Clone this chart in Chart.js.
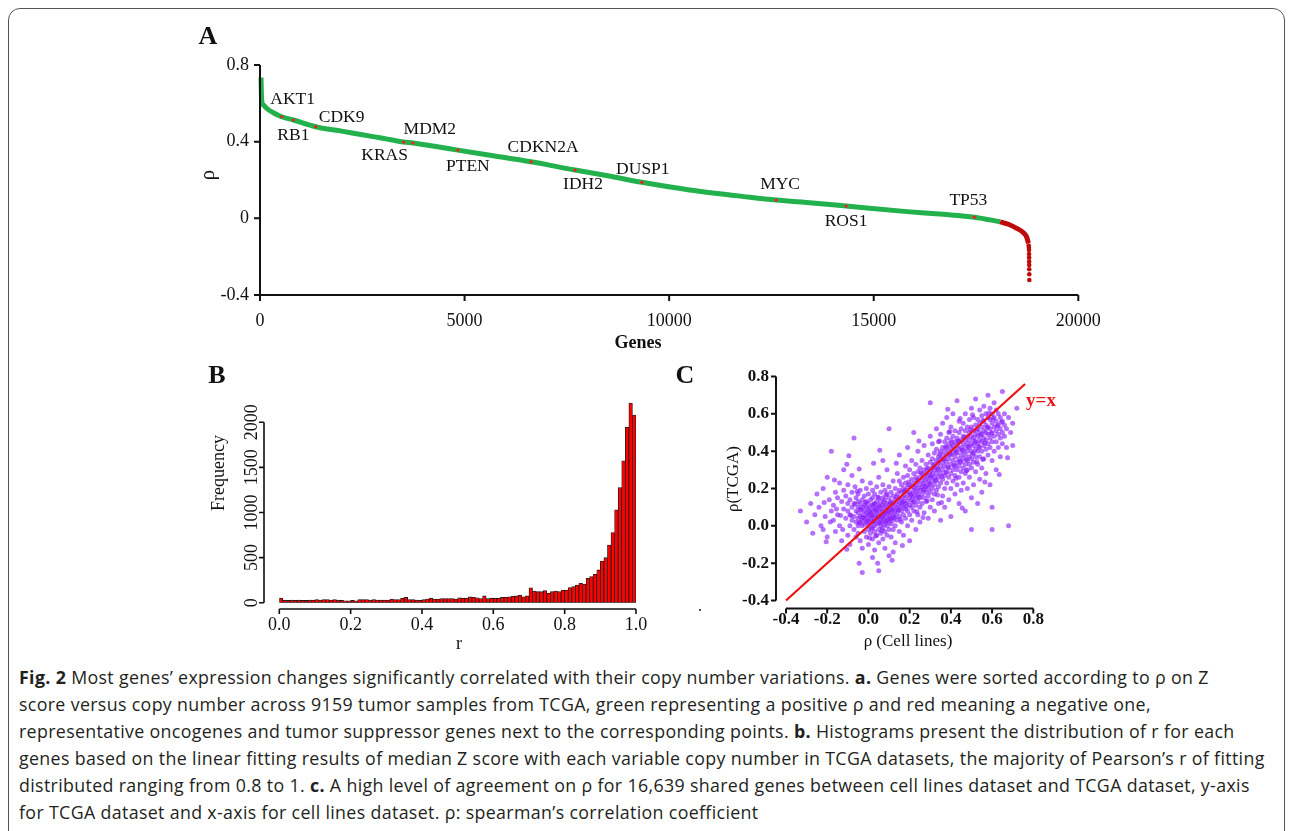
<!DOCTYPE html>
<html>
<head>
<meta charset="utf-8">
<script src="https://cdn.jsdelivr.net/npm/chart.js"></script>
<style>
    body { margin: 0; width: 1292px; height: 831px; overflow: hidden; background: #fff; position: relative; font-family: "Liberation Serif", serif; color: #111; }
    .frame { position: absolute; left: 8px; top: 8px; width: 1275px; height: 880px; border: 1px solid #555; border-radius: 12px; }
    canvas { position: absolute; }
    .t { position: absolute; transform: translate(-50%, -50%); white-space: nowrap; }
    .rot { transform: translate(-50%, -50%) rotate(-90deg); }
    .panel { font-weight: bold; font-size: 26px; }
    .caption { position: absolute; left: 19px; top: 664px; font-family: "Open Sans", sans-serif; font-size: 17.8px; letter-spacing: 0.35px; line-height: 27px; color: #231f20; }
    .caption div { white-space: nowrap; }
</style>
</head>
<body>
<div class="frame"></div>

<canvas id="sortedRhoChart" width="910" height="340" style="left:190px;top:20px"></canvas>
<canvas id="histChart" width="470" height="275" style="left:190px;top:360px"></canvas>
<canvas id="agreementChart" width="380" height="275" style="left:700px;top:360px"></canvas>

<div class="t panel" style="left:208px;top:36px">A</div>
<div class="t rot" style="left:207px;top:175px;font-size:21px">ρ</div>
<div class="t" style="left:638px;top:342px;font-size:18px;font-weight:bold">Genes</div>

<div class="t panel" style="left:217px;top:375px">B</div>
<div class="t rot" style="left:218px;top:473px;font-size:18px">Frequency</div>
<div class="t" style="left:459px;top:643px;font-size:18px">r</div>

<div class="t panel" style="left:685px;top:375px">C</div>
<div class="t rot" style="left:733px;top:479px;font-size:17px">ρ(TCGA)</div>
<div class="t" style="left:908px;top:641px;font-size:17px">ρ (Cell lines)</div>
<div class="t" style="left:700px;top:606px;font-size:16px">.</div>

<div class="caption">
    <div><b>Fig. 2</b> Most genes’ expression changes significantly correlated with their copy number variations. <b>a.</b> Genes were sorted according to ρ on Z</div>
    <div>score versus copy number across 9159 tumor samples from TCGA, green representing a positive ρ and red meaning a negative one,</div>
    <div>representative oncogenes and tumor suppressor genes next to the corresponding points. <b>b.</b> Histograms present the distribution of r for each</div>
    <div>genes based on the linear fitting results of median Z score with each variable copy number in TCGA datasets, the majority of Pearson’s r of fitting</div>
    <div>distributed ranging from 0.8 to 1. <b>c.</b> A high level of agreement on ρ for 16,639 shared genes between cell lines dataset and TCGA dataset, y-axis</div>
    <div>for TCGA dataset and x-axis for cell lines dataset. ρ: spearman’s correlation coefficient</div>
</div>

<script>
// --- Panel A: genes sorted by rho ---
const geneRank = [25, 40, 90, 163, 326, 530, 815, 1360, 2000, 2500, 3000, 3510, 3736, 4300, 4836, 5700, 6626, 7700, 8500, 9333, 10500, 11978, 12613, 13500, 14324, 15808, 16700, 17460, 18089];
const rhoSorted = [0.735, 0.617, 0.59, 0.574, 0.551, 0.530, 0.513, 0.478, 0.455, 0.436, 0.418, 0.398, 0.393, 0.375, 0.356, 0.327, 0.295, 0.252, 0.222, 0.188, 0.148, 0.110, 0.0955, 0.080, 0.064, 0.035, 0.021, 0.006, -0.018];
const tailRank = [18089, 18292, 18496, 18659, 18741, 18781];
const tailRho = [-0.018, -0.031, -0.052, -0.075, -0.099, -0.13];
const outlierRank = [18788, 18792, 18795, 18797, 18798, 18799, 18800, 18801, 18802, 18803];
const outlierRho = [-0.142, -0.153, -0.165, -0.186, -0.205, -0.226, -0.244, -0.266, -0.292, -0.322];

const geneNames = ['AKT1', 'RB1', 'CDK9', 'KRAS', 'MDM2', 'PTEN', 'CDKN2A', 'IDH2', 'DUSP1', 'MYC', 'ROS1', 'TP53'];
const geneAt = [530, 815, 1360, 3510, 3736, 4836, 6626, 7700, 9333, 12613, 14324, 17460];
const geneRho = [0.530, 0.513, 0.478, 0.398, 0.393, 0.356, 0.295, 0.252, 0.188, 0.0955, 0.064, 0.006];

const aTickX = [0, 5000, 10000, 15000, 20000];
const aLabelX = ['0', '5000', '10000', '15000', '20000'];
const aTickY = [-0.4, 0, 0.4, 0.8];
const aLabelY = ['-0.4', '0', '0.4', '0.8'];

// --- Panel B: histogram of r (bins of 0.01 from 0 to 1) ---
const histCounts = [
    50, 25, 25, 28, 25, 30, 25, 25, 30, 28,
    35, 30, 35, 35, 30, 35, 30, 25, 20, 20,
    25, 20, 35, 35, 35, 30, 35, 30, 30, 30,
    30, 40, 35, 35, 50, 60, 35, 35, 30, 25,
    35, 40, 50, 40, 40, 45, 45, 45, 45, 40,
    55, 50, 50, 65, 60, 55, 45, 75, 45, 50,
    50, 50, 60, 60, 65, 70, 75, 85, 65, 75,
    165, 130, 122, 122, 133, 104, 122, 130, 122, 140,
    140, 167, 178, 196, 215, 207, 270, 289, 315, 363,
    462, 500, 640, 777, 1029, 1276, 1572, 1943, 2213, 2080
];
const bTickX = [0, 0.2, 0.4, 0.6, 0.8, 1.0];
const bLabelX = ['0.0', '0.2', '0.4', '0.6', '0.8', '1.0'];
const bTickY = [0, 500, 1000, 1500, 2000];
const bLabelY = ['0', '500', '1000', '1500', '2000'];

// --- Panel C: rho in cell lines (x) vs rho in TCGA (y) ---
const sharedGenesRho = [
    [-0.33,0.08],[-0.3,0.02],[-0.28,0.12],[-0.27,-0.04],[-0.25,0.17],[-0.26,0.06],
    [-0.24,0.1],[-0.23,0.0],[-0.22,0.2],[-0.21,0.05],[-0.2,-0.06],[-0.19,0.14],[-0.18,0.4],[-0.2,0.26],[-0.22,-0.02],[-0.18,0.08],[-0.185,0.02],
    [-0.17,0.11],[-0.16,-0.03],[-0.16,0.18],[-0.15,0.06],[-0.14,0.23],[-0.14,0.0],[-0.13,0.13],[-0.13,-0.08],[-0.12,0.09],[-0.12,0.3],[-0.17,0.03],[-0.15,0.15],[-0.12,0.19],[-0.125,-0.02],[-0.155,0.09],
    [-0.11,0.04],[-0.11,0.16],[-0.1,-0.05],[-0.1,0.08],[-0.1,0.12],[-0.1,0.22],[-0.09,0.0],[-0.09,0.06],[-0.09,0.14],[-0.09,-0.1],[-0.08,0.03],[-0.08,0.1],[-0.08,0.18],[-0.08,0.27],[-0.07,-0.02],[-0.07,0.05],[-0.07,0.12],[-0.07,0.47],[-0.06,0.08],[-0.06,0.15],[-0.06,-0.06],[-0.06,0.02],[-0.065,0.21],[-0.105,0.33],
    [-0.05,0.0],[-0.05,0.04],[-0.05,0.07],[-0.05,0.1],[-0.05,0.13],[-0.05,0.17],[-0.05,-0.04],[-0.04,0.02],[-0.04,0.05],[-0.04,0.09],[-0.04,0.12],[-0.04,0.19],[-0.04,-0.08],[-0.03,0.0],[-0.03,0.03],[-0.03,0.06],[-0.03,0.1],[-0.03,0.14],[-0.03,0.24],[-0.03,-0.12],
    [-0.02,-0.03],[-0.02,0.01],[-0.02,0.04],[-0.02,0.08],[-0.02,0.11],[-0.02,0.16],[-0.01,-0.06],[-0.01,0.02],[-0.01,0.05],[-0.01,0.07],[-0.01,0.1],[-0.01,0.13],[-0.01,0.2],[0.0,-0.02],[0.0,0.0],[0.0,0.03],[0.0,0.06],[0.0,0.09],[0.0,0.12],[0.0,0.17],[0.0,-0.1],[-0.045,-0.2],[-0.03,-0.25],
    [0.01,-0.04],[0.01,0.01],[0.01,0.04],[0.01,0.07],[0.01,0.1],[0.01,0.14],[0.01,0.23],[0.02,-0.07],[0.02,-0.01],[0.02,0.02],[0.02,0.05],[0.02,0.08],[0.02,0.11],[0.02,0.15],[0.02,0.19],[0.03,-0.03],[0.03,0.0],[0.03,0.03],[0.03,0.06],[0.03,0.09],[0.03,0.12],[0.03,0.17],[0.03,-0.13],
    [0.04,-0.05],[0.04,0.01],[0.04,0.04],[0.04,0.07],[0.04,0.1],[0.04,0.13],[0.04,0.21],[0.05,-0.09],[0.05,-0.02],[0.05,0.02],[0.05,0.05],[0.05,0.08],[0.05,0.11],[0.05,0.15],[0.05,0.26],[0.045,-0.2],[0.05,-0.24],[0.02,-0.17],
    [0.06,-0.04],[0.06,0.0],[0.06,0.03],[0.06,0.06],[0.06,0.09],[0.06,0.13],[0.06,0.18],[0.07,-0.07],[0.07,-0.01],[0.07,0.02],[0.07,0.05],[0.07,0.08],[0.07,0.11],[0.07,0.15],[0.07,0.22],[0.08,-0.03],[0.08,0.01],[0.08,0.04],[0.08,0.07],[0.08,0.1],[0.08,0.14],[0.08,0.19],[0.08,-0.12],
    [0.09,-0.05],[0.09,0.0],[0.09,0.03],[0.09,0.06],[0.09,0.09],[0.09,0.12],[0.09,0.17],[0.09,0.3],[0.1,-0.02],[0.1,0.02],[0.1,0.05],[0.1,0.08],[0.1,0.11],[0.1,0.15],[0.1,0.21],[0.1,0.52],[0.1,-0.16],[0.07,0.35],
    [0.11,-0.06],[0.11,0.01],[0.11,0.04],[0.11,0.07],[0.11,0.1],[0.11,0.13],[0.11,0.18],[0.12,-0.02],[0.12,0.03],[0.12,0.06],[0.12,0.09],[0.12,0.12],[0.12,0.16],[0.12,0.24],[0.13,0.0],[0.13,0.05],[0.13,0.08],[0.13,0.11],[0.13,0.14],[0.13,0.2],[0.13,-0.09],
    [0.14,0.03],[0.14,0.07],[0.14,0.1],[0.14,0.13],[0.14,0.17],[0.14,0.28],[0.15,-0.03],[0.15,0.05],[0.15,0.09],[0.15,0.12],[0.15,0.15],[0.15,0.19],[0.15,0.24],[0.12,-0.14],[0.15,0.38],
    [0.16,0.02],[0.16,0.08],[0.16,0.11],[0.16,0.14],[0.16,0.18],[0.16,0.22],[0.17,-0.05],[0.17,0.06],[0.17,0.1],[0.17,0.13],[0.17,0.16],[0.17,0.2],[0.17,0.26],[0.18,0.04],[0.18,0.09],[0.18,0.12],[0.18,0.15],[0.18,0.19],[0.18,0.23],[0.18,0.32],
    [0.19,0.0],[0.19,0.08],[0.19,0.13],[0.19,0.17],[0.19,0.21],[0.19,0.27],[0.2,0.06],[0.2,0.11],[0.2,0.15],[0.2,0.18],[0.2,0.22],[0.2,0.3],[0.2,-0.08],[0.19,0.42],
    [0.21,0.03],[0.21,0.1],[0.21,0.14],[0.21,0.17],[0.21,0.21],[0.21,0.25],[0.21,0.35],[0.22,0.08],[0.22,0.13],[0.22,0.16],[0.22,0.19],[0.22,0.23],[0.22,0.28],[0.23,-0.02],[0.23,0.11],[0.23,0.15],[0.23,0.18],[0.23,0.22],[0.23,0.26],[0.23,0.33],
    [0.24,0.06],[0.24,0.13],[0.24,0.17],[0.24,0.2],[0.24,0.24],[0.24,0.29],[0.24,0.4],[0.25,0.1],[0.25,0.15],[0.25,0.19],[0.25,0.22],[0.25,0.26],[0.25,0.31],[0.25,0.02],[0.22,0.5],
    [0.26,0.12],[0.26,0.17],[0.26,0.21],[0.26,0.24],[0.26,0.28],[0.26,0.35],[0.27,0.07],[0.27,0.15],[0.27,0.19],[0.27,0.23],[0.27,0.26],[0.27,0.3],[0.27,0.43],[0.28,0.13],[0.28,0.18],[0.28,0.21],[0.28,0.25],[0.28,0.28],[0.28,0.33],
    [0.29,0.04],[0.29,0.16],[0.29,0.2],[0.29,0.24],[0.29,0.27],[0.29,0.31],[0.29,0.38],[0.3,0.1],[0.3,0.18],[0.3,0.22],[0.3,0.26],[0.3,0.29],[0.3,0.34],[0.3,0.66],[0.3,0.48],
    [0.31,0.14],[0.31,0.2],[0.31,0.24],[0.31,0.28],[0.31,0.31],[0.31,0.36],[0.31,0.44],[0.32,0.08],[0.32,0.17],[0.32,0.22],[0.32,0.26],[0.32,0.3],[0.32,0.33],[0.32,0.39],[0.33,0.19],[0.33,0.24],[0.33,0.28],[0.33,0.32],[0.33,0.35],[0.33,0.41],[0.33,0.52],
    [0.34,0.12],[0.34,0.21],[0.34,0.26],[0.34,0.3],[0.34,0.34],[0.34,0.37],[0.34,0.45],[0.35,0.03],[0.35,0.23],[0.35,0.28],[0.35,0.32],[0.35,0.36],[0.35,0.4],[0.35,0.49],
    [0.36,0.16],[0.36,0.25],[0.36,0.3],[0.36,0.34],[0.36,0.38],[0.36,0.42],[0.36,0.55],[0.37,0.2],[0.37,0.27],[0.37,0.32],[0.37,0.36],[0.37,0.4],[0.37,0.45],[0.37,0.1],[0.38,0.23],[0.38,0.29],[0.38,0.34],[0.38,0.38],[0.38,0.42],[0.38,0.47],[0.38,0.58],
    [0.39,0.14],[0.39,0.26],[0.39,0.31],[0.39,0.36],[0.39,0.4],[0.39,0.44],[0.39,0.5],[0.4,0.2],[0.4,0.28],[0.4,0.33],[0.4,0.38],[0.4,0.42],[0.4,0.46],[0.4,0.53],[0.4,0.05],
    [0.41,0.24],[0.41,0.3],[0.41,0.35],[0.41,0.39],[0.41,0.43],[0.41,0.48],[0.41,0.6],[0.42,0.17],[0.42,0.27],[0.42,0.32],[0.42,0.37],[0.42,0.41],[0.42,0.45],[0.42,0.51],[0.43,0.22],[0.43,0.3],[0.43,0.34],[0.43,0.39],[0.43,0.43],[0.43,0.47],[0.43,0.67],
    [0.44,0.12],[0.44,0.26],[0.44,0.32],[0.44,0.36],[0.44,0.41],[0.44,0.45],[0.44,0.5],[0.44,0.56],[0.45,0.29],[0.45,0.34],[0.45,0.38],[0.45,0.42],[0.45,0.46],[0.45,0.52],[0.45,0.19],
    [0.46,0.23],[0.46,0.31],[0.46,0.36],[0.46,0.4],[0.46,0.44],[0.46,0.48],[0.46,0.55],[0.47,0.08],[0.47,0.28],[0.47,0.33],[0.47,0.38],[0.47,0.42],[0.47,0.46],[0.47,0.51],[0.47,0.6],
    [0.48,0.2],[0.48,0.3],[0.48,0.35],[0.48,0.4],[0.48,0.44],[0.48,0.48],[0.48,0.53],[0.49,0.26],[0.49,0.33],[0.49,0.37],[0.49,0.42],[0.49,0.46],[0.49,0.5],[0.49,0.57],[0.5,0.15],[0.5,0.31],[0.5,0.36],[0.5,0.4],[0.5,0.44],[0.5,0.48],[0.5,0.53],[0.5,0.63],[0.5,-0.02],
    [0.51,0.22],[0.51,0.34],[0.51,0.39],[0.51,0.43],[0.51,0.47],[0.51,0.51],[0.51,0.58],[0.52,0.29],[0.52,0.37],[0.52,0.41],[0.52,0.45],[0.52,0.49],[0.52,0.54],[0.52,0.68],[0.53,0.12],[0.53,0.33],[0.53,0.4],[0.53,0.44],[0.53,0.48],[0.53,0.52],[0.53,0.57],
    [0.54,0.25],[0.54,0.37],[0.54,0.42],[0.54,0.46],[0.54,0.5],[0.54,0.55],[0.54,0.62],[0.55,0.31],[0.55,0.4],[0.55,0.45],[0.55,0.49],[0.55,0.53],[0.55,0.59],[0.55,0.18],
    [0.56,0.36],[0.56,0.43],[0.56,0.47],[0.56,0.51],[0.56,0.56],[0.56,0.64],[0.57,0.28],[0.57,0.41],[0.57,0.46],[0.57,0.5],[0.57,0.54],[0.57,0.6],[0.58,0.38],[0.58,0.44],[0.58,0.49],[0.58,0.53],[0.58,0.58],[0.58,0.7],
    [0.59,0.22],[0.59,0.42],[0.59,0.47],[0.59,0.52],[0.59,0.57],[0.59,0.63],[0.6,0.35],[0.6,0.45],[0.6,0.5],[0.6,0.55],[0.6,0.6],[0.6,-0.02],[0.6,0.1],
    [0.61,0.4],[0.61,0.48],[0.61,0.53],[0.61,0.58],[0.61,0.66],[0.62,0.3],[0.62,0.45],[0.62,0.51],[0.62,0.56],[0.62,0.62],[0.63,0.42],[0.63,0.49],[0.63,0.54],[0.63,0.6],[0.64,0.37],[0.64,0.47],[0.64,0.52],[0.64,0.58],
    [0.65,0.44],[0.65,0.5],[0.65,0.56],[0.65,0.72],[0.66,0.48],[0.66,0.54],[0.66,0.6],[0.67,0.42],[0.67,0.52],[0.68,0.0],[0.68,0.58],[0.69,0.5],[0.7,0.43],[0.7,0.55],[0.72,0.63],
    [-0.045,0.015],[-0.035,0.085],[-0.025,0.045],[-0.015,0.125],[-0.005,0.025],[0.005,0.075],[0.015,-0.015],[0.015,0.055],[0.025,0.115],[0.025,0.025],[0.035,0.085],[0.035,-0.055],[0.045,0.045],[0.045,0.155],[0.055,0.015],[0.055,0.105],[0.065,0.045],[0.065,-0.025],[0.075,0.125],[0.075,0.065],[0.085,0.025],[0.085,0.165],[0.095,0.075],[0.105,0.035],[0.105,0.125],[0.115,0.085],[0.125,0.045],[0.135,0.155],[0.145,0.085],[0.155,0.035],[-0.065,0.115],[-0.085,0.055],[-0.055,0.185],[0.005,-0.065],
    [0.165,0.125],[0.175,0.185],[0.185,0.105],[0.195,0.235],[0.205,0.165],[0.215,0.125],[0.225,0.205],[0.235,0.245],[0.245,0.155],[0.255,0.285],[0.265,0.195],[0.275,0.215],[0.285,0.305],[0.295,0.225],[0.305,0.265],[0.315,0.325],[0.325,0.245],[0.335,0.305],[0.345,0.385],[0.355,0.265],[0.365,0.355],[0.375,0.425],[0.385,0.315],[0.395,0.385],[0.405,0.445],[0.415,0.325],[0.425,0.395],[0.435,0.455],[0.445,0.345],[0.455,0.405],[0.465,0.475],[0.475,0.355],[0.485,0.425],[0.495,0.515],[0.505,0.385],[0.515,0.455],[0.525,0.515],[0.535,0.425],[0.545,0.485],[0.555,0.565],[0.565,0.445],[0.575,0.525],[0.585,0.605],[0.595,0.495],[0.605,0.575],[0.625,0.535],[0.645,0.555],[0.375,0.285],[0.425,0.255],[0.475,0.295],[0.525,0.345],[0.285,0.135],[0.235,0.075],[0.335,0.165],[0.445,0.575],[0.395,0.505],[0.345,0.455],[0.505,0.595],[0.555,0.355],
    [-0.215,0.125],[-0.165,0.245],[-0.135,0.055],[-0.095,0.375],[-0.045,0.305],[0.025,0.335],[0.055,0.405],[0.135,0.335],[0.165,-0.105],[0.265,0.045],[0.355,0.125],[0.455,0.095],[0.565,0.235],[0.635,0.275],[0.675,0.365],[0.385,0.625],[0.245,0.455],[0.115,-0.185],[-0.105,-0.125],[-0.205,-0.085]
];
const identityLine = [-0.4, 0.76];
const cTicks = [-0.4, -0.2, 0, 0.2, 0.4, 0.6, 0.8];
const cLabels = ['-0.4', '-0.2', '0.0', '0.2', '0.4', '0.6', '0.8'];

// Draws detached axes: line from first to last tick, outward ticks, labels
const rAxes = {
    id: 'rAxes',
    afterDraw(chart, args, o) {
        const { ctx, chartArea } = chart;
        const sx = chart.scales[o.xScale];
        const sy = chart.scales[o.yScale];
        ctx.save();
        ctx.strokeStyle = '#111';
        ctx.fillStyle = '#111';
        ctx.lineWidth = o.lineWidth;
        ctx.font = o.font;

        // x axis
        const yLine = chartArea.bottom + o.xOffset;
        const xs = o.xTicks.map(v => sx.getPixelForValue(v));
        ctx.beginPath();
        ctx.moveTo(xs[0], yLine);
        ctx.lineTo(xs[xs.length - 1], yLine);
        xs.forEach(px => { ctx.moveTo(px, yLine); ctx.lineTo(px, yLine + o.tickLen); });
        ctx.stroke();
        ctx.textAlign = 'center';
        ctx.textBaseline = 'middle';
        xs.forEach((px, i) => ctx.fillText(o.xLabels[i], px, yLine + o.xLabelGap));

        // y axis
        const xLine = chartArea.left - o.yOffset;
        const ys = o.yTicks.map(v => sy.getPixelForValue(v));
        ctx.beginPath();
        ctx.moveTo(xLine, ys[0]);
        ctx.lineTo(xLine, ys[ys.length - 1]);
        ys.forEach(py => { ctx.moveTo(xLine, py); ctx.lineTo(xLine - o.tickLen, py); });
        ctx.stroke();
        ys.forEach((py, i) => {
            if (o.rotateY) {
                ctx.save();
                ctx.translate(xLine - o.yLabelGap, py);
                ctx.rotate(-Math.PI / 2);
                ctx.textAlign = 'center';
                ctx.fillText(o.yLabels[i], 0, 0);
                ctx.restore();
            } else {
                ctx.textAlign = 'right';
                ctx.fillText(o.yLabels[i], xLine - o.yLabelGap, py);
            }
        });
        ctx.restore();
    }
};

const geneLabels = {
    id: 'geneLabels',
    afterDatasetsDraw(chart, args, o) {
        const { ctx, scales: { x, y } } = chart;
        ctx.save();
        ctx.font = o.font;
        ctx.fillStyle = '#111';
        ctx.textAlign = 'center';
        ctx.textBaseline = 'middle';
        geneNames.forEach((name, i) => {
            const [dx, dy] = o.offsets[i];
            ctx.fillText(name, x.getPixelForValue(geneAt[i]) + dx, y.getPixelForValue(geneRho[i]) + dy);
        });
        ctx.restore();
    }
};

const identityLabel = {
    id: 'identityLabel',
    afterDatasetsDraw(chart) {
        const { ctx, scales: { x, y } } = chart;
        const end = identityLine[identityLine.length - 1];
        ctx.save();
        ctx.font = 'bold 19px "Liberation Serif"';
        ctx.fillStyle = '#ee1111';
        ctx.textAlign = 'left';
        ctx.textBaseline = 'middle';
        ctx.fillText('y=x', x.getPixelForValue(end) + 1, y.getPixelForValue(end) + 17);
        ctx.restore();
    }
};

const baseOptions = {
    responsive: false,
    animation: false,
    devicePixelRatio: 1,
    events: []
};
const hidden = { display: false };

// Panel A
new Chart(document.getElementById('sortedRhoChart'), {
    type: 'scatter',
    data: {
        datasets: [
            {
                data: geneAt.map((g, i) => ({ x: g, y: geneRho[i] })),
                pointRadius: 1.6, pointBackgroundColor: '#ff1a1a', pointBorderWidth: 0,
                showLine: false, order: 0, clip: false
            },
            {
                data: outlierRank.map((g, i) => ({ x: g, y: outlierRho[i] })),
                pointRadius: 2.3, pointBackgroundColor: '#bf0a0a', pointBorderWidth: 0,
                showLine: false, order: 1, clip: false
            },
            {
                data: tailRank.map((g, i) => ({ x: g, y: tailRho[i] })),
                showLine: true, borderColor: '#bf0a0a', borderWidth: 5, pointRadius: 0,
                cubicInterpolationMode: 'monotone', order: 2, clip: false
            },
            {
                data: geneRank.map((g, i) => ({ x: g, y: rhoSorted[i] })),
                showLine: true, borderColor: '#22b14c', borderWidth: 5, pointRadius: 0,
                cubicInterpolationMode: 'monotone', order: 3, clip: false
            }
        ]
    },
    options: {
        ...baseOptions,
        layout: { padding: { left: 70, right: 21.7, top: 45, bottom: 65 } },
        scales: {
            x: { ...hidden, type: 'linear', min: 0, max: 20000 },
            y: { ...hidden, min: -0.4, max: 0.8 }
        },
        plugins: {
            legend: { display: false },
            tooltip: { enabled: false },
            rAxes: {
                xScale: 'x', yScale: 'y',
                xTicks: aTickX, xLabels: aLabelX, yTicks: aTickY, yLabels: aLabelY,
                xOffset: 0, yOffset: 0, tickLen: 6, xLabelGap: 26, yLabelGap: 11,
                lineWidth: 2, rotateY: false, font: '18px "Liberation Serif"'
            },
            geneLabels: {
                font: '17.5px "Liberation Serif"',
                offsets: [[11, -17], [0, 15], [26, -9], [-19, 13], [17, -14], [10, 16], [12, -14], [8, 14], [1, -13], [4, -16], [0, 15], [-6, -17]]
            }
        }
    },
    plugins: [rAxes, geneLabels]
});

// Panel B
new Chart(document.getElementById('histChart'), {
    type: 'bar',
    data: {
        labels: histCounts.map((_, i) => (i / 100).toFixed(2)),
        datasets: [{
            data: histCounts,
            xAxisID: 'x',
            backgroundColor: '#ff0000',
            borderColor: '#1a1a1a',
            borderWidth: 0.8,
            borderSkipped: false,
            categoryPercentage: 1,
            barPercentage: 1
        }]
    },
    options: {
        ...baseOptions,
        layout: { padding: { left: 89.3, right: 24, top: 39.7, bottom: 32.3 } },
        scales: {
            x: { ...hidden, offset: true },
            xr: { ...hidden, type: 'linear', min: 0, max: 1, offset: false, position: 'bottom' },
            y: { ...hidden, min: 0, max: 2250 }
        },
        plugins: {
            legend: { display: false },
            tooltip: { enabled: false },
            rAxes: {
                xScale: 'xr', yScale: 'y',
                xTicks: bTickX, xLabels: bLabelX, yTicks: bTickY, yLabels: bLabelY,
                xOffset: 6.3, yOffset: 15.3, tickLen: 5, xLabelGap: 16, yLabelGap: 12,
                lineWidth: 1.6, rotateY: true, font: '18px "Liberation Serif"'
            }
        }
    },
    plugins: [rAxes]
});

// Panel C
new Chart(document.getElementById('agreementChart'), {
    type: 'scatter',
    data: {
        datasets: [
            {
                data: identityLine.map(v => ({ x: v, y: v })),
                showLine: true, borderColor: '#ee1111', borderWidth: 2.2, pointRadius: 0,
                order: 0, clip: false
            },
            {
                data: sharedGenesRho.map(([x, y]) => ({ x, y })),
                pointRadius: 2.5, pointBackgroundColor: 'rgba(135, 25, 255, 0.62)', pointBorderWidth: 0,
                order: 1, clip: false
            }
        ]
    },
    options: {
        ...baseOptions,
        layout: { padding: { left: 86, right: 46.7, top: 16.5, bottom: 34.5 } },
        scales: {
            x: { ...hidden, type: 'linear', min: -0.4, max: 0.8 },
            y: { ...hidden, min: -0.4, max: 0.8 }
        },
        plugins: {
            legend: { display: false },
            tooltip: { enabled: false },
            rAxes: {
                xScale: 'x', yScale: 'y',
                xTicks: cTicks, xLabels: cLabels, yTicks: cTicks, yLabels: cLabels,
                xOffset: 8, yOffset: 10, tickLen: 5, xLabelGap: 11, yLabelGap: 7,
                lineWidth: 2, rotateY: false, font: 'bold 17px "Liberation Serif"'
            }
        }
    },
    plugins: [rAxes, identityLabel]
});
</script>
</body>
</html>
